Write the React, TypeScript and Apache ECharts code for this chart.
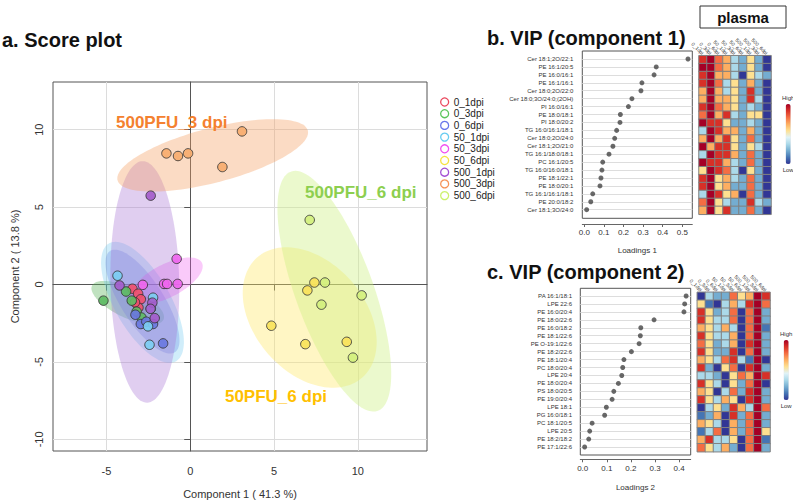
import React, { useEffect, useRef } from 'react';
import * as echarts from 'echarts';

// ---------- Score plot data ----------
const groups = ['0_1dpi', '0_3dpi', '0_6dpi', '50_1dpi', '50_3dpi', '50_6dpi', '500_1dpi', '500_3dpi', '500_6dpi'];

const g0_1dpi = [[-3.45, -0.27], [-3.11, -0.59], [-2.95, -0.95], [-3.09, -1.49], [-3.3, -1.15]];
const g0_3dpi = [[-5.18, -1.04], [-3.83, -0.45], [-3.49, -1.04], [-3.2, -1.75], [-2.91, -2.13]];
const g0_6dpi = [[-3.27, -1.95], [-2.95, -2.55], [-2.62, -2.4], [-2.22, -2.55], [-1.62, -3.8]];
const g50_1dpi = [[-4.34, 0.57], [-2.22, -0.85], [-2.52, -2.7], [-2.43, -3.89], [-2.35, -1.55]];
const g50_3dpi = [[-2.83, -0.02], [-0.81, 1.66], [-1.56, 0.04], [-1.38, 0.04], [-0.75, 0.04]];
const g50_6dpi = [[4.84, -2.66], [6.87, -3.85], [9.34, -3.7], [7.41, 0.13], [6.99, -0.38]];
const g500_1dpi = [[-2.36, 5.74], [-4.22, -0.06], [-2.26, -1.17], [-2.37, -1.57], [-2.12, -2.17]];
const g500_3dpi = [[-1.42, 8.47], [-0.73, 8.3], [-0.13, 8.47], [1.92, 7.59], [3.09, 9.89]];
const g500_6dpi = [[7.13, 4.17], [8.04, 0.13], [10.23, -0.7], [7.83, -1.3], [9.71, -4.72]];
const groupPoints = [g0_1dpi, g0_3dpi, g0_6dpi, g50_1dpi, g50_3dpi, g50_6dpi, g500_1dpi, g500_3dpi, g500_6dpi];

// confidence ellipses: [centerX, centerY, semiAxisA, semiAxisB, angleDeg]
const e0_1dpi = [-3.2, -0.9, 1.1, 0.5, -55];
const e0_3dpi = [-3.73, -1.17, 2.4, 0.95, -28];
const e0_6dpi = [-2.85, -1.1, 3.8, 1.3, -60];
const e50_1dpi = [-2.85, -1.15, 4.3, 1.7, -63];
const e50_3dpi = [-1.4, 0.24, 2.4, 1.05, 30];
const e50_6dpi = [7.13, -2.13, 5.0, 3.4, -55];
const e500_1dpi = [-2.71, 0.17, 7.8, 2.05, 91];
const e500_3dpi = [1.34, 8.34, 5.9, 1.75, 16];
const e500_6dpi = [8.6, -0.43, 8.15, 2.35, -71.7];
const groupEllipses = [e0_1dpi, e0_3dpi, e0_6dpi, e50_1dpi, e50_3dpi, e50_6dpi, e500_1dpi, e500_3dpi, e500_6dpi];

const scoreXTicks = [-5, 0, 5, 10];
const scoreYTicks = [-10, -5, 0, 5, 10];

// ---------- VIP component 1 ----------
const vip1Names = ['Cer 18:1;2O/22:1', 'PE 16:1/20:5', 'PE 16:0/16:1', 'PE 16:1/16:1', 'Cer 18:0;2O/22:0',
  'Cer 18:0;3O/24:0;(2OH)', 'PI 16:0/16:1', 'PE 18:0/18:1', 'PI 18:0/20:2', 'TG 16:0/16:1/18:1',
  'Cer 18:0;2O/24:0', 'Cer 18:1;2O/21:0', 'TG 16:1/18:0/18:1', 'PC 16:1/20:5', 'TG 16:0/16:0/18:1',
  'PE 18:1/22:1', 'PE 18:0/20:1', 'TG 16:1/16:1/18:1', 'PE 20:0/18:2', 'Cer 18:1;3O/24:0'];
const vip1Values = [0.529, 0.367, 0.356, 0.294, 0.289, 0.243, 0.225, 0.184, 0.182, 0.165,
  0.155, 0.146, 0.126, 0.094, 0.09, 0.085, 0.08, 0.043, 0.033, 0.012];
const vip1Ticks = [0, 0.1, 0.2, 0.3, 0.4, 0.5];
const heat1 = [
  [9, 10, 8, 7, 4, 3, 6, 3, 1],
  [10, 10, 8, 7, 4, 3, 6, 3, 1],
  [9, 10, 7, 7, 4, 1, 6, 4, 3],
  [9, 10, 8, 4, 6, 3, 7, 3, 1],
  [7, 10, 7, 4, 6, 3, 9, 3, 1],
  [7, 10, 7, 7, 6, 3, 9, 4, 1],
  [9, 10, 8, 7, 6, 3, 4, 3, 1],
  [8, 10, 7, 9, 4, 3, 6, 6, 1],
  [10, 9, 9, 6, 3, 3, 4, 3, 1],
  [4, 10, 9, 7, 7, 3, 7, 3, 1],
  [7, 10, 7, 9, 6, 3, 8, 3, 1],
  [10, 7, 9, 9, 6, 3, 6, 4, 1],
  [4, 10, 9, 9, 7, 3, 8, 3, 1],
  [10, 9, 9, 7, 4, 3, 8, 3, 1],
  [6, 10, 9, 8, 4, 1, 6, 3, 1],
  [9, 10, 6, 7, 4, 3, 8, 3, 1],
  [9, 10, 6, 7, 3, 3, 8, 3, 1],
  [4, 10, 9, 6, 7, 1, 8, 3, 1],
  [8, 10, 6, 4, 3, 3, 9, 4, 3],
  [7, 10, 6, 9, 3, 3, 8, 3, 1],
];

// ---------- VIP component 2 ----------
const vip2Names = ['PA 16:1/18:1', 'LPE 22:6', 'PE 16:0/20:4', 'PE 18:0/22:6', 'PE 16:0/18:2',
  'PE 18:1/22:6', 'PE O-19:1/22:6', 'PE 18:2/22:6', 'PE 18:1/20:4', 'PC 18:0/20:4',
  'LPE 20:4', 'PE 18:0/20:4', 'PS 18:0/20:5', 'PE 19:0/20:4', 'LPE 18:1',
  'PG 16:0/18:1', 'PC 18:1/20:5', 'LPE 20:5', 'PE 18:2/18:2', 'PE 17:1/22:6'];
const vip2Values = [0.429, 0.423, 0.42, 0.296, 0.241, 0.239, 0.234, 0.202, 0.171, 0.166,
  0.162, 0.148, 0.129, 0.122, 0.098, 0.091, 0.039, 0.029, 0.025, 0.008];
const vip2Ticks = [0, 0.1, 0.2, 0.3, 0.4];
const heat2 = [
  [1, 4, 3, 3, 8, 6, 7, 10, 9],
  [6, 2, 1, 4, 7, 4, 9, 10, 8],
  [9, 6, 3, 4, 8, 1, 8, 10, 3],
  [9, 6, 4, 4, 8, 1, 8, 10, 3],
  [7, 6, 4, 7, 4, 1, 8, 10, 2],
  [9, 6, 4, 4, 7, 1, 8, 10, 3],
  [8, 6, 3, 4, 7, 1, 9, 10, 3],
  [9, 6, 3, 3, 9, 1, 8, 10, 3],
  [7, 6, 4, 8, 9, 4, 2, 10, 1],
  [9, 3, 1, 6, 8, 1, 9, 10, 3],
  [4, 4, 3, 1, 6, 8, 7, 10, 9],
  [9, 6, 4, 1, 6, 3, 8, 10, 1],
  [7, 6, 1, 4, 8, 3, 9, 10, 3],
  [9, 6, 4, 7, 6, 1, 9, 10, 3],
  [1, 4, 6, 3, 9, 7, 4, 10, 8],
  [2, 3, 7, 1, 9, 3, 8, 10, 3],
  [7, 6, 4, 1, 7, 3, 8, 10, 3],
  [2, 4, 8, 1, 7, 3, 8, 10, 6],
  [7, 9, 4, 4, 6, 1, 8, 10, 2],
  [8, 6, 4, 7, 3, 1, 8, 10, 3],
];

// ---------- styles ----------
const FONT = '"Liberation Sans", Arial, Helvetica, sans-serif';
const pointFill = ['#F0506E', '#5DBB63', '#6A78E0', '#7CCDF2', '#EE66EE', '#F8E25A', '#A45CCB', '#F7AC6E', '#D2F07E'];
const legendColor = ['#E8384F', '#4CC04C', '#5C6BE8', '#5BC8F0', '#F040F0', '#F5E030', '#9B3FCF', '#F58A4A', '#C8F060'];
const ellipseFill = [
  'rgba(232,56,79,0.28)', 'rgba(90,180,90,0.38)', 'rgba(100,110,225,0.32)', 'rgba(110,200,240,0.32)',
  'rgba(240,90,240,0.32)', 'rgba(255,232,100,0.38)', 'rgba(165,110,210,0.34)', 'rgba(245,160,100,0.38)',
  'rgba(205,240,130,0.40)'];
const rdylbu = ['#313695', '#4575B4', '#74ADD1', '#ABD9E9', '#E0F3F8', '#FEE090', '#FDAE61', '#F46D43', '#D73027', '#A50026'];

const heatData = (m: number[][]) => {
  const out: number[][] = [];
  m.forEach((row, r) => row.forEach((v, c) => out.push([c, r, v])));
  return out;
};

const ellipseRender = (fill: string) => (params: any, api: any) => {
  const cx = api.value(0), cy = api.value(1), a = api.value(2), b = api.value(3);
  const ang = (api.value(4) * Math.PI) / 180;
  const pts: number[][] = [];
  for (let k = 0; k < 120; k++) {
    const t = (k / 120) * Math.PI * 2;
    const ex = a * Math.cos(t), ey = b * Math.sin(t);
    const x = cx + ex * Math.cos(ang) - ey * Math.sin(ang);
    const y = cy + ex * Math.sin(ang) + ey * Math.cos(ang);
    pts.push(api.coord([x, y]));
  }
  return { type: 'polygon', shape: { points: pts }, style: { fill, stroke: 'none' } };
};

export default function App() {
  const ref = useRef<HTMLDivElement>(null);
  useEffect(() => {
    if (!ref.current) return;
    const chart = echarts.init(ref.current, undefined, { renderer: 'svg' });

    const ellipseSeries = groups.map((g, i) => ({
      type: 'custom',
      name: g + ' ellipse',
      xAxisIndex: 0,
      yAxisIndex: 0,
      silent: true,
      z: 1,
      data: [groupEllipses[i]],
      encode: { x: 0, y: 1 },
      renderItem: ellipseRender(ellipseFill[i]),
    }));

    const scatterSeries = groups.map((g, i) => ({
      type: 'scatter',
      name: g,
      xAxisIndex: 0,
      yAxisIndex: 0,
      z: 3,
      symbol: 'circle',
      symbolSize: 9.5,
      data: groupPoints[i],
      itemStyle: { color: pointFill[i], borderColor: '#333', borderWidth: 0.9, opacity: 0.92 },
    }));

    const option: any = {
      animation: false,
      textStyle: { fontFamily: FONT },
      grid: [
        { left: 53, top: 82, width: 374, height: 373, show: true, borderColor: '#555', borderWidth: 1, backgroundColor: 'transparent' },
        { left: 582.3, top: 59, width: 110, height: 150.7 },
        { left: 699, top: 55.7, width: 72, height: 158.6 },
        { left: 580.3, top: 296, width: 110.4, height: 151 },
        { left: 697.3, top: 292.3, width: 72.7, height: 159.4 },
      ],
      xAxis: [
        {
          gridIndex: 0, type: 'value', min: -8.19, max: 14.13,
          axisLine: { show: true, lineStyle: { color: '#555' } },
          axisTick: { show: true, length: 6, customValues: scoreXTicks, lineStyle: { color: '#555' } },
          axisLabel: { customValues: scoreXTicks, fontSize: 11, color: '#333', margin: 14 },
          splitLine: { show: true, lineStyle: { color: '#DCDCDC' } },
          name: 'Component 1 ( 41.3 %)', nameLocation: 'middle', nameGap: 37,
          nameTextStyle: { fontSize: 11, color: '#333' },
        },
        {
          gridIndex: 1, type: 'value', min: -0.0102, max: 0.551, position: 'bottom', offset: 14.3,
          axisLine: { show: true, lineStyle: { color: '#666' } },
          axisTick: { show: true, length: 3, customValues: vip1Ticks, lineStyle: { color: '#666' } },
          axisLabel: { customValues: vip1Ticks, fontSize: 8, color: '#333', margin: 4, formatter: (v: number) => v.toFixed(1) },
          splitLine: { show: false },
          name: 'Loadings 1', nameLocation: 'middle', nameGap: 22, nameTextStyle: { fontSize: 8, color: '#333' },
        },
        {
          gridIndex: 2, type: 'category', data: groups, position: 'top',
          axisLine: { show: false }, axisTick: { show: false },
          axisLabel: { rotate: 45, fontSize: 5, margin: 2, color: '#333', interval: 0 },
        },
        {
          gridIndex: 3, type: 'value', min: -0.01, max: 0.448, position: 'bottom', offset: 12.3,
          axisLine: { show: true, lineStyle: { color: '#666' } },
          axisTick: { show: true, length: 3, customValues: vip2Ticks, lineStyle: { color: '#666' } },
          axisLabel: { customValues: vip2Ticks, fontSize: 8, color: '#333', margin: 5, formatter: (v: number) => v.toFixed(1) },
          splitLine: { show: false },
          name: 'Loadings 2', nameLocation: 'middle', nameGap: 24, nameTextStyle: { fontSize: 8, color: '#333' },
        },
        {
          gridIndex: 4, type: 'category', data: groups, position: 'top',
          axisLine: { show: false }, axisTick: { show: false },
          axisLabel: { rotate: 45, fontSize: 5, margin: 2, color: '#333', interval: 0 },
        },
      ],
      yAxis: [
        {
          gridIndex: 0, type: 'value', min: -10.75, max: 13.08,
          axisLine: { show: true, lineStyle: { color: '#555' } },
          axisTick: { show: true, length: 6, customValues: scoreYTicks, lineStyle: { color: '#555' } },
          axisLabel: { customValues: scoreYTicks, fontSize: 11, color: '#333', margin: 9, rotate: 90 },
          splitLine: { show: true, lineStyle: { color: '#DCDCDC' } },
          name: 'Component 2 ( 13.8 %)', nameLocation: 'middle', nameGap: 33, nameRotate: 90,
          nameTextStyle: { fontSize: 11, color: '#333' },
        },
        {
          gridIndex: 1, type: 'category', data: vip1Names, inverse: true, boundaryGap: false,
          axisLine: { show: false }, axisTick: { show: false },
          axisLabel: { fontSize: 6, color: '#333', margin: 9, interval: 0 },
          splitLine: { show: true, interval: 0, lineStyle: { color: '#DDDDDD' } },
        },
        {
          gridIndex: 2, type: 'category', data: vip1Names, inverse: true, show: false,
        },
        {
          gridIndex: 3, type: 'category', data: vip2Names, inverse: true, boundaryGap: false,
          axisLine: { show: false }, axisTick: { show: false },
          axisLabel: { fontSize: 6, color: '#333', margin: 8.3, interval: 0 },
          splitLine: { show: true, interval: 0, lineStyle: { color: '#DDDDDD' } },
        },
        {
          gridIndex: 4, type: 'category', data: vip2Names, inverse: true, show: false,
        },
      ],
      legend: {
        orient: 'vertical', left: 440, top: 97, padding: 0,
        itemWidth: 8, itemHeight: 8, itemGap: 1.7, selectedMode: false,
        textStyle: { fontSize: 10, color: '#222', fontFamily: FONT },
        data: groups.map((g, i) => ({
          name: g, icon: 'circle',
          itemStyle: { color: 'transparent', borderColor: legendColor[i], borderWidth: 1.3 },
        })),
      },
      visualMap: [
        {
          type: 'continuous', seriesIndex: 20, min: 1, max: 10, calculable: false,
          inRange: { color: rdylbu }, orient: 'vertical', left: 782, top: 95,
          itemWidth: 5, itemHeight: 60, text: ['High', 'Low'], textGap: 3,
          textStyle: { fontSize: 6, color: '#333' }, padding: 0,
        },
        {
          type: 'continuous', seriesIndex: 22, min: 1, max: 10, calculable: false,
          inRange: { color: rdylbu }, orient: 'vertical', left: 780, top: 331,
          itemWidth: 5, itemHeight: 60, text: ['High', 'Low'], textGap: 3,
          textStyle: { fontSize: 6, color: '#333' }, padding: 0,
        },
      ],
      series: [
        ...ellipseSeries, // 0-8
        ...scatterSeries, // 9-17
        {
          type: 'scatter', name: 'vip1', xAxisIndex: 1, yAxisIndex: 1, symbolSize: 5,
          data: vip1Values.map((v, i) => [v, vip1Names[i]]),
          itemStyle: { color: '#444' }, z: 3,
        }, // 18
        {
          type: 'scatter', name: 'vip2', xAxisIndex: 3, yAxisIndex: 3, symbolSize: 5,
          data: vip2Values.map((v, i) => [v, vip2Names[i]]),
          itemStyle: { color: '#444' }, z: 3,
        }, // 19
        {
          type: 'heatmap', name: 'heat1', xAxisIndex: 2, yAxisIndex: 2, data: heatData(heat1),
          itemStyle: { borderColor: '#808080', borderWidth: 1 },
        }, // 20
        { type: 'scatter', name: 'dummy', xAxisIndex: 1, yAxisIndex: 1, data: [] }, // 21
        {
          type: 'heatmap', name: 'heat2', xAxisIndex: 4, yAxisIndex: 4, data: heatData(heat2),
          itemStyle: { borderColor: '#808080', borderWidth: 1 },
        }, // 22
      ],
      graphic: [
        { type: 'text', left: 2, top: 30, style: { text: 'a. Score plot', font: `bold 20px ${FONT}`, fill: '#111' } },
        { type: 'text', left: 487, top: 28, style: { text: 'b. VIP (component 1)', font: `bold 20px ${FONT}`, fill: '#111' } },
        { type: 'text', left: 487, top: 262, style: { text: 'c. VIP (component 2)', font: `bold 20px ${FONT}`, fill: '#111' } },
        { type: 'rect', shape: { x: 700, y: 6, width: 86, height: 22 }, style: { fill: 'none', stroke: '#333', lineWidth: 1 } },
        { type: 'text', x: 743, y: 17, style: { text: 'plasma', font: `bold 15px ${FONT}`, fill: '#111', textAlign: 'center', textVerticalAlign: 'middle' } },
        { type: 'rect', shape: { x: 582.3, y: 51, width: 110, height: 167.3 }, style: { fill: 'none', stroke: '#555', lineWidth: 1 } },
        { type: 'rect', shape: { x: 580.3, y: 288.3, width: 110.4, height: 166.7 }, style: { fill: 'none', stroke: '#555', lineWidth: 1 } },
        { type: 'text', x: 116, y: 122, z: 10, style: { text: '500PFU_3 dpi', font: `bold 17px ${FONT}`, fill: '#F4812F', textVerticalAlign: 'middle' } },
        { type: 'text', x: 305, y: 192, z: 10, style: { text: '500PFU_6 dpi', font: `bold 17px ${FONT}`, fill: '#8DCF4F', textVerticalAlign: 'middle' } },
        { type: 'text', x: 327, y: 396, z: 10, style: { text: '50PFU_6 dpi', font: `bold 17px ${FONT}`, fill: '#FFC000', textAlign: 'right', textVerticalAlign: 'middle' } },
      ],
    };
    chart.setOption(option);
    return () => chart.dispose();
  }, []);
  return <div ref={ref} style={{ position: 'fixed', left: 0, top: 0, width: 793, height: 504, background: '#fff' }} />;
}
